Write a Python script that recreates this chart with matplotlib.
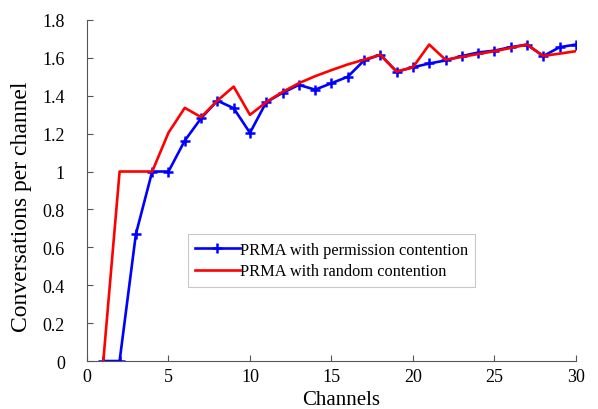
import matplotlib
matplotlib.use('Agg')
import matplotlib.pyplot as plt
from matplotlib.ticker import FormatStrFormatter

# Datos
channels = list(range(1, 31))
permission = [0, 0, 0.67, 1.0, 1.0, 1.163, 1.281, 1.374, 1.334, 1.204,
              1.366, 1.415, 1.457, 1.432, 1.466, 1.50, 1.586, 1.616, 1.527, 1.55,
              1.57, 1.586, 1.609, 1.628, 1.638, 1.656, 1.67, 1.609, 1.656, 1.67]
random_c = [0, 1.0, 1.0, 1.0, 1.205, 1.336, 1.287, 1.374, 1.448, 1.299,
            1.366, 1.42, 1.466, 1.503, 1.535, 1.565, 1.59, 1.616, 1.527, 1.55,
            1.67, 1.59, 1.605, 1.62, 1.635, 1.652, 1.67, 1.61, 1.622, 1.635]

x_ticks = [0, 5, 10, 15, 20, 25, 30]
y_ticks = [0, 0.2, 0.4, 0.6, 0.8, 1.0, 1.2, 1.4, 1.6, 1.8]

plt.rcParams['font.family'] = ['Liberation Serif', 'DejaVu Serif']

fig = plt.figure(figsize=(5.98, 4.10), dpi=100)
ax = fig.add_axes([0.1455, 0.117, 0.8175, 0.832])

ax.plot(channels, permission, color='blue', lw=1.9, marker='+', ms=7.5, mew=1.8,
        label='PRMA with permission contention')
ax.plot(channels, random_c, color='red', lw=1.9,
        label='PRMA with random contention')

ax.set_xlim(0, 30)
ax.set_ylim(0, 1.8)
ax.set_xticks(x_ticks)
ax.set_yticks(y_ticks)
ax.yaxis.set_major_formatter(FormatStrFormatter('%g'))
ax.tick_params(direction='in', labelsize=13, color='#555555', length=4)
ax.tick_params(axis='x', pad=5)
ax.tick_params(axis='y', pad=16)
for s in ['top', 'right']:
    ax.spines[s].set_visible(False)
for s in ['left', 'bottom']:
    ax.spines[s].set_color('#555555')

ax.set_xlabel('Channels', fontsize=15)
ax.set_ylabel('Conversations per channel', fontsize=17)
ax.xaxis.set_label_coords(0.52, -0.085)
ax.yaxis.set_label_coords(-0.112, 0.456)

leg = ax.legend(loc='upper left', bbox_to_anchor=(0.2065, 0.372), borderaxespad=0,
                fancybox=False, fontsize=11.8, handlelength=2.7, handletextpad=0.0,
                labelspacing=0.35, borderpad=0.45, numpoints=1)
leg.get_frame().set_edgecolor('#bbbbbb')
leg.get_frame().set_linewidth(0.8)

fig.savefig('out.png', dpi=100)
